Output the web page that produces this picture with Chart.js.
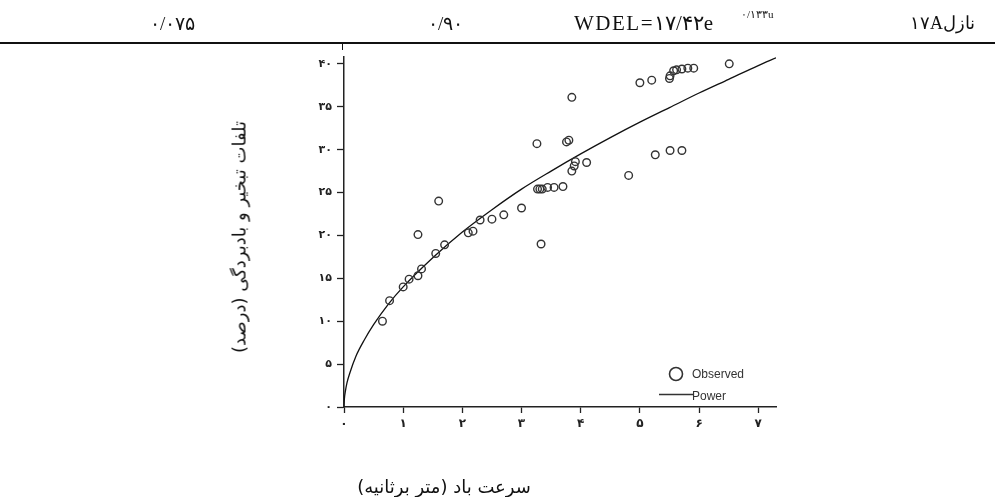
<!DOCTYPE html>
<html>
<head>
<meta charset="utf-8">
<script src="https://cdn.jsdelivr.net/npm/chart.js@4.4.3/dist/chart.umd.min.js"></script>
<style>
  body { margin: 0; background: #fff; }
  #wrap { position: relative; width: 995px; height: 497px; overflow: hidden; }
  #c { position: absolute; left: 0; top: 0; }
  .t { position: absolute; white-space: nowrap; color: #111; }
  .serif { font-family: "Liberation Serif", "DejaVu Serif", serif; font-size: 19px; }
  .fa { font-family: "DejaVu Sans", sans-serif; }
</style>
</head>
<body>
<div id="wrap">
  <canvas id="c" width="995" height="497"></canvas>
  <div class="t serif" style="left:150px; top:12px;">۰/۰۷۵</div>
  <div class="t serif" style="left:428px; top:12px;">۰/۹۰</div>
  <div class="t serif" style="left:574px; top:11px; font-size:21px; letter-spacing:1.5px;">WDEL=۱۷/۴۲e</div>
  <div class="t serif" style="left:741px; top:8px; font-size:11px;">۰/۱۳۳u</div>
  <div class="t serif" style="right:20px; top:12px; font-size:18px;" dir="rtl">نازل۱۷A</div>
  <div style="position:absolute; left:0; top:42px; width:995px; height:2px; background:#111;"></div>
  <div style="position:absolute; left:342px; top:44px; width:1px; height:6px; background:#111;"></div>
  <div class="t fa" dir="rtl" style="left:239px; top:237px; font-size:18px; transform:translate(-50%,-50%) rotate(-90deg);">تلفات تبخیر و بادبردگی (درصد)</div>
  <div class="t fa" dir="rtl" style="left:444px; top:486px; font-size:18px; transform:translate(-50%,-50%);">سرعت باد (متر برثانیه)</div>
</div>
<script>
// observed points: wind speed (m/s) and loss (%)
const obsX = [0.65, 0.77, 1.00, 1.10, 1.25, 1.31, 1.25, 1.55, 1.70, 1.60, 2.10, 2.18, 2.30, 2.50, 2.70,
  3.00, 3.33, 3.26, 3.27, 3.31, 3.35, 3.44, 3.55, 3.70, 3.85, 3.76, 3.80, 3.91, 3.89, 3.85, 4.10,
  5.00, 5.20, 5.50, 5.51, 5.57, 5.62, 5.71, 5.81, 5.91, 6.51, 5.26, 5.51, 5.71, 4.81];
const obsY = [10.0, 12.4, 14.0, 14.9, 15.3, 16.1, 20.1, 17.9, 18.9, 24.0, 20.3, 20.5, 21.8, 21.9, 22.4,
  23.2, 19.0, 30.7, 25.4, 25.4, 25.4, 25.6, 25.6, 25.7, 36.1, 30.9, 31.1, 28.6, 28.1, 27.5, 28.5,
  37.8, 38.1, 38.3, 38.6, 39.2, 39.3, 39.4, 39.5, 39.5, 40.0, 29.4, 29.9, 29.9, 27.0];

// power fit curve
const fitX = [0, 0.005, 0.01, 0.02, 0.05, 0.1, 0.2, 0.35, 0.5, 0.75, 1, 1.5, 2, 2.5, 3, 3.5, 4, 4.5, 5, 5.5, 6, 6.5, 7, 7.3];
const fitY = [0, 0.8, 1.2, 1.7, 2.8, 4.0, 5.9, 7.9, 9.6, 12.0, 14.0, 17.4, 20.4, 23.0, 25.4, 27.5, 29.5, 31.4, 33.2, 34.9, 36.6, 38.2, 39.8, 40.7];

const xTicks = [0, 1, 2, 3, 4, 5, 6, 7];
const xTickLabels = ['۰', '۱', '۲', '۳', '۴', '۵', '۶', '۷'];
const yTicks = [0, 5, 10, 15, 20, 25, 30, 35, 40];
const yTickLabels = ['۰', '۵', '۱۰', '۱۵', '۲۰', '۲۵', '۳۰', '۳۵', '۴۰'];

const legendNames = ['Observed', 'Power'];

const legendPlugin = {
  id: 'sideLegend',
  afterDraw(chart) {
    const ctx = chart.ctx;
    ctx.save();
    ctx.strokeStyle = '#333';
    ctx.lineWidth = 1.6;
    ctx.beginPath();
    ctx.arc(676, 374, 6.5, 0, Math.PI * 2);
    ctx.stroke();
    ctx.lineWidth = 1.3;
    ctx.beginPath();
    ctx.moveTo(659, 394.5);
    ctx.lineTo(694, 394.5);
    ctx.stroke();
    ctx.fillStyle = '#333';
    ctx.font = '12px "Liberation Sans Narrow", "Liberation Sans", Arial, sans-serif';
    ctx.textBaseline = 'middle';
    ctx.fillText(legendNames[0], 692, 375);
    ctx.fillText(legendNames[1], 692, 397);
    ctx.restore();
  }
};

new Chart(document.getElementById('c'), {
  type: 'scatter',
  data: {
    datasets: [
      {
        label: legendNames[0],
        data: obsX.map((x, i) => ({ x, y: obsY[i] })),
        pointStyle: 'circle',
        pointRadius: 3.8,
        pointBackgroundColor: 'rgba(255,255,255,0)',
        pointBorderColor: '#333',
        pointBorderWidth: 1.4
      },
      {
        label: legendNames[1],
        data: fitX.map((x, i) => ({ x, y: fitY[i] })),
        showLine: true,
        pointRadius: 0,
        borderColor: '#111',
        borderWidth: 1.3,
        cubicInterpolationMode: 'monotone'
      }
    ]
  },
  plugins: [legendPlugin],
  options: {
    responsive: false,
    animation: false,
    events: [],
    layout: { padding: { left: 300, top: 57, right: 219, bottom: 0 } },
    plugins: { legend: { display: false }, tooltip: { enabled: false } },
    scales: {
      x: {
        type: 'linear', min: 0, max: 7.3,
        afterBuildTicks: s => { s.ticks = xTicks.map(v => ({ value: v })); },
        afterFit: s => { s.height = 90; },
        grid: { drawOnChartArea: false, drawTicks: true, tickLength: 6, color: '#222', tickWidth: 1.3 },
        border: { display: true, color: '#222', width: 1.5 },
        ticks: {
          color: '#222', padding: 4,
          font: { family: 'DejaVu Sans', size: 12, weight: 'bold' },
          callback: v => xTickLabels[xTicks.indexOf(v)]
        }
      },
      y: {
        type: 'linear', min: 0, max: 40.8,
        afterBuildTicks: s => { s.ticks = yTicks.map(v => ({ value: v })); },
        afterFit: s => { s.width = 44; },
        grid: { drawOnChartArea: false, drawTicks: true, tickLength: 7, color: '#222', tickWidth: 1.3 },
        border: { display: true, color: '#222', width: 1.5 },
        ticks: {
          color: '#222', padding: 5,
          font: { family: 'DejaVu Sans', size: 11, weight: 'bold' },
          callback: v => yTickLabels[yTicks.indexOf(v)]
        }
      }
    }
  }
});
</script>
</body>
</html>
